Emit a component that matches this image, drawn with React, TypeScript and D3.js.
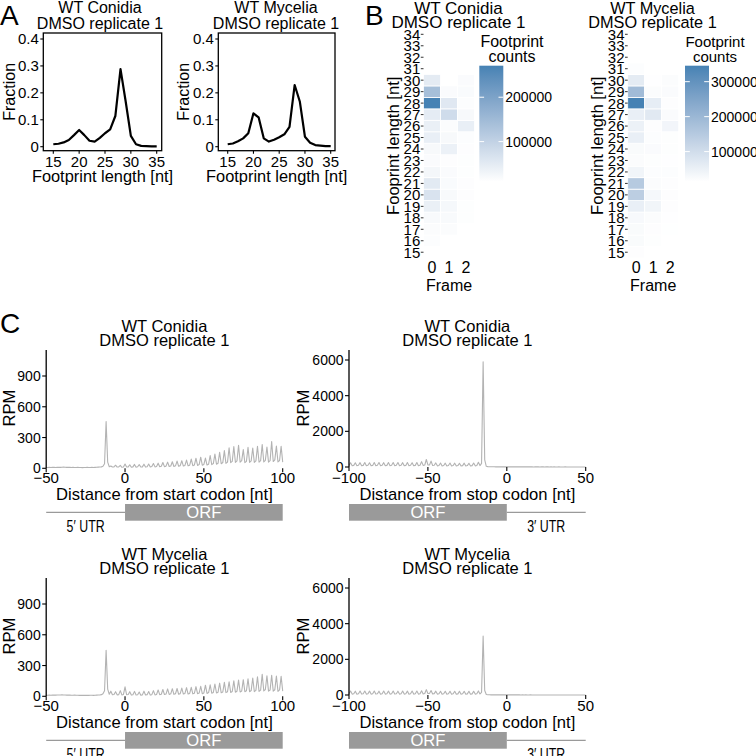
import React from 'react';
import * as d3 from 'd3';

const FONT = "'Liberation Sans', Arial, Helvetica, sans-serif";

// ---------------- Panel A data ----------------
const footprintLengths = [15, 16, 17, 18, 19, 20, 21, 22, 23, 24, 25, 26, 27, 28, 29, 30, 31, 32, 33, 34, 35];
const fractionConidia = [0.009, 0.011, 0.016, 0.025, 0.043, 0.062, 0.043, 0.022, 0.019, 0.033, 0.05, 0.064, 0.114, 0.288, 0.168, 0.04, 0.009, 0.003, 0.002, 0.001, 0.001];
const fractionMycelia = [0.009, 0.012, 0.02, 0.031, 0.05, 0.124, 0.109, 0.031, 0.019, 0.026, 0.035, 0.046, 0.074, 0.229, 0.168, 0.037, 0.015, 0.006, 0.004, 0.002, 0.002];
const fractionTicks = [0, 0.1, 0.2, 0.3, 0.4];
const fractionTickLabels = ['0', '0.1', '0.2', '0.3', '0.4'];
const lengthTicks = [15, 20, 25, 30, 35];

// ---------------- Panel B data ----------------
const heatLengths = [15, 16, 17, 18, 19, 20, 21, 22, 23, 24, 25, 26, 27, 28, 29, 30, 31, 32, 33, 34];
const frameLabels = ['0', '1', '2'];
// values for lengths 15..34 (null = no cell)
const conidiaFrame0 = [null, 14000, 16000, 20000, 40000, 65000, 52000, 26000, 17000, 22000, 42000, 40000, 48000, 271000, 140000, 50000, null, null, null, null];
const conidiaFrame1 = [null, 10000, 15000, 20000, 24000, 20000, 18000, 17000, 13000, 38000, 22000, 15000, 80000, 55000, 17000, null, null, null, null, null];
const conidiaFrame2 = [null, null, 10000, 12000, 12000, 13000, 13000, 12000, 12000, 13000, 14000, 42000, 22000, 14000, 18000, 17000, null, null, null, null];
const myceliaFrame0 = [18000, 25000, 25000, 28000, 55000, 140000, 150000, 40000, 22000, 25000, 55000, 50000, 55000, 345000, 190000, 65000, 20000, null, null, null];
const myceliaFrame1 = [null, 17000, 18000, 22000, 40000, 32000, 22000, 20000, 17000, 24000, 20000, 18000, 70000, 60000, 22000, 16000, null, null, null, null];
const myceliaFrame2 = [null, null, 15000, 16000, 18000, 18000, 18000, 20000, 16000, 17000, 17000, 38000, 24000, 18000, 24000, 22000, null, null, null, null];
const legendRangeConidia = [9700, 271000];
const legendRangeMycelia = [14000, 345700];
const legendTicksConidia = [100000, 200000];
const legendTicksMycelia = [100000, 200000, 300000];

// ---------------- Panel C data ----------------
const startFirst = -50;
const stopFirst = -100;
const rpmStartConidia = [
  8, 8, 9, 8, 9, 9, 8, 9, 10, 9, 10, 11, 10, 9, 10, 9, 8, 9, 8, 8, 9, 8, 8, 7, 8, 8, 9, 8, 8, 9, 8, 9, 10, 11, 12, 14, 20,
  45, 455, 60, 15, 22, 12, 14, 30, 12, 14, 28, 10, 12,
  42, 12, 14, 35, 10, 14, 38, 11, 15, 36, 12, 14, 40, 12, 16, 42, 13, 17, 46, 14, 18, 50, 15, 20,
  56, 16, 21, 60, 18, 23, 64, 18, 24, 70, 20, 26, 74, 22, 28, 80, 24, 30, 90, 26, 33, 98, 28, 36,
  108, 30, 38, 100, 32, 40, 125, 36, 46, 138, 40, 50, 155, 44, 56, 172, 48, 60, 200, 55, 68, 212, 58, 72,
  225, 60, 75, 182, 55, 68, 205, 58, 72, 198, 58, 72, 215, 60, 75, 232, 62, 78, 208, 60, 74, 262, 66, 82,
  218, 62, 76, 215, 60,
];
const rpmStartMycelia = [
  10, 10, 11, 10, 11, 12, 11, 12, 13, 12, 14, 13, 12, 11, 12, 11, 10, 10, 11, 10, 10, 9, 10, 9, 10, 9, 10, 9, 10, 10, 9, 10, 11, 12, 13, 16, 25,
  55, 448, 70, 20, 50, 15, 18, 45, 14, 16, 55, 14, 18,
  92, 15, 18, 45, 12, 16, 48, 12, 15, 42, 11, 14, 50, 13, 16, 46, 12, 16, 55, 14, 18, 62, 16, 20,
  66, 17, 22, 72, 18, 24, 74, 19, 25, 76, 20, 26, 80, 22, 28, 84, 22, 28, 88, 24, 30, 94, 25, 32,
  98, 26, 33, 108, 28, 36, 112, 30, 38, 120, 32, 40, 128, 34, 42, 136, 36, 45, 142, 38, 47, 150, 40, 50,
  158, 42, 52, 162, 44, 54, 170, 45, 56, 178, 46, 58, 190, 48, 60, 215, 52, 66, 200, 50, 62, 205, 50, 64,
  198, 48, 62, 195, 50,
];
const rpmStopConidia = [
  90,
  240, 70, 90, 235, 75, 95, 245, 70, 92, 250, 72, 95, 240, 70, 90, 250, 75, 95, 255, 75, 98,
  245, 72, 92, 250, 74, 96, 248, 72, 94, 255, 75, 96, 245, 70, 90, 250, 72, 95, 242, 70, 92,
  250, 75, 98, 300, 90, 110, 420, 120, 110, 330, 85, 100, 230, 65, 85, 225, 62, 82, 215, 60, 80,
  220, 62, 82, 215, 60, 80, 210, 58, 78, 215, 60, 80, 210, 58, 78, 220, 65, 85, 260, 80, 200,
  5900, 400, 40, 20, 15, 12, 10, 10, 9, 9, 8, 8, 8, 8, 7,
  7, 7, 6, 6, 6, 6, 6, 5, 6, 5, 5, 5, 6, 5, 5, 5, 5, 4, 5, 5, 5, 4, 5, 5, 4, 5,
  5, 4, 5, 4, 5, 4, 4, 5, 4, 4, 4, 5, 4, 4, 4, 4, 4, 4, 4, 4, 4, 3, 4, 4, 4,
];
const rpmStopMycelia = [
  80,
  220, 50, 70, 215, 48, 68, 225, 52, 72, 220, 50, 70, 218, 50, 70, 222, 52, 72, 215, 48, 68,
  220, 50, 70, 218, 50, 70, 222, 52, 70, 215, 50, 68, 220, 50, 70, 218, 48, 68, 222, 50, 70,
  220, 50, 70, 240, 60, 80, 300, 80, 90, 250, 60, 75, 215, 50, 68, 210, 48, 66, 212, 48, 66,
  210, 48, 66, 208, 46, 64, 210, 48, 66, 205, 46, 64, 208, 46, 64, 212, 50, 68, 230, 60, 150,
  3300, 250, 30, 15, 10, 9, 8, 8, 7, 7, 6, 6, 6, 6, 6,
  6, 6, 5, 5, 5, 5, 5, 5, 5, 4, 5, 4, 5, 4, 4, 5, 4, 4, 4, 4, 4, 4, 4, 3, 4, 4,
  4, 4, 3, 4, 4, 3, 4, 3, 4, 3, 3, 4, 3, 3, 3, 3, 4, 3, 3, 3, 3, 3, 3, 3, 3,
];
const startTicks = [-50, 0, 50, 100];
const stopTicks = [-100, -50, 0, 50];
const rpmTicksStart = [0, 300, 600, 900];
const rpmTicksStop = [0, 2000, 4000, 6000];

const fmtTick = (v: number) => (v < 0 ? '\u2212' + Math.abs(v) : String(v));

// ---------------- Panel A component ----------------
function FractionPlot(p: {
  bx0: number; bx1: number; by0: number; by1: number;
  xr: [number, number]; yr: [number, number];
  values: number[]; t1: string; t2: string; tcx: number; ylabX: number;
}) {
  const x = d3.scaleLinear().domain([15, 35]).range(p.xr);
  const y = d3.scaleLinear().domain([0, 0.4]).range(p.yr);
  const line = d3.line<number>().x((_, i) => x(footprintLengths[i])).y((d) => y(d));
  const cx = (p.bx0 + p.bx1) / 2;
  return (
    <g>
      <text x={p.tcx} y={13} textAnchor="middle" fontSize={16}>{p.t1}</text>
      <text x={p.tcx} y={28.5} textAnchor="middle" fontSize={16}>{p.t2}</text>
      <rect x={p.bx0} y={p.by0} width={p.bx1 - p.bx0} height={p.by1 - p.by0} fill="none" stroke="#000" strokeWidth={1.3} />
      {fractionTicks.map((t, i) => (
        <g key={i}>
          <line x1={p.bx0 - 3} x2={p.bx0} y1={y(t)} y2={y(t)} stroke="#000" strokeWidth={1.1} />
          <text x={p.bx0 - 4.5} y={y(t)} dy="0.36em" textAnchor="end" fontSize={15}>{fractionTickLabels[i]}</text>
        </g>
      ))}
      {lengthTicks.map((t) => (
        <g key={t}>
          <line x1={x(t)} x2={x(t)} y1={p.by1} y2={p.by1 + 3} stroke="#000" strokeWidth={1.1} />
          <text x={x(t)} y={p.by1 + 16} textAnchor="middle" fontSize={15}>{t}</text>
        </g>
      ))}
      <path d={line(p.values) || ''} fill="none" stroke="#000" strokeWidth={2.2} strokeLinejoin="round" />
      <text x={cx} y={182} textAnchor="middle" fontSize={16.4}>Footprint length [nt]</text>
      <text transform={`translate(${p.ylabX},${(p.by0 + p.by1) / 2}) rotate(-90)`} textAnchor="middle" fontSize={16}>Fraction</text>
    </g>
  );
}

// ---------------- Panel B component ----------------
function Heatmap(p: {
  cellX0: number; colW: number; frames: (number | null)[][]; range: number[]; ticks: number[];
  barX: number; t1: string; t2: string; tcx: number; tFont: number; legCx: number; legFont: number; gid: string;
}) {
  const rowTop = 34.3 - 11.47 / 2;
  const y = d3.scaleBand<number>().domain([...heatLengths].reverse()).range([rowTop, rowTop + 11.47 * 20]);
  const x = d3.scaleBand<number>().domain([0, 1, 2]).range([p.cellX0, p.cellX0 + p.colW * 3]);
  const color = d3.scaleLinear<string>().domain(p.range).range(['#ffffff', 'steelblue']).interpolate(d3.interpolateLab);
  const barTop = 65.7, barBot = 181.7, barW = 24;
  const ly = d3.scaleLinear().domain(p.range).range([barBot, barTop]);
  const stops = d3.range(0, 1.0001, 0.1);
  const cxCells = p.cellX0 + p.colW * 1.5;
  return (
    <g>
      <defs>
        <linearGradient id={p.gid} x1="0" y1="1" x2="0" y2="0">
          {stops.map((s) => (
            <stop key={s} offset={s} stopColor={color(p.range[0] + s * (p.range[1] - p.range[0]))} />
          ))}
        </linearGradient>
      </defs>
      <text x={p.tcx} y={13.5} textAnchor="middle" fontSize={p.tFont}>{p.t1}</text>
      <text x={p.tcx} y={27.5} textAnchor="middle" fontSize={p.tFont}>{p.t2}</text>
      {p.frames.map((vals, f) =>
        vals.map((v, i) =>
          v == null ? null : (
            <rect key={`${f}-${i}`} x={x(f)} y={y(heatLengths[i])} width={x.bandwidth()} height={y.bandwidth()}
              fill={color(v)} stroke="#fff" strokeWidth={0.8} />
          )
        )
      )}
      {heatLengths.map((l) => (
        <g key={l}>
          <line x1={p.cellX0 - 2.7} x2={p.cellX0} y1={(y(l) || 0) + y.bandwidth() / 2} y2={(y(l) || 0) + y.bandwidth() / 2} stroke="#333" strokeWidth={1} />
          <text x={p.cellX0 - 3.2} y={(y(l) || 0) + y.bandwidth() / 2} dy="0.36em" textAnchor="end" fontSize={15}>{l}</text>
        </g>
      ))}
      {frameLabels.map((f, i) => (
        <text key={f} x={(x(i) || 0) + x.bandwidth() / 2} y={273} textAnchor="middle" fontSize={16}>{f}</text>
      ))}
      <text x={cxCells} y={291} textAnchor="middle" fontSize={16}>Frame</text>
      <text transform={`translate(${p.cellX0 - 24.5},${145.8}) rotate(-90)`} textAnchor="middle" fontSize={16.6}>Fooprint length [nt]</text>
      <text x={p.legCx} y={47} textAnchor="middle" fontSize={p.legFont}>Footprint</text>
      <text x={p.legCx} y={61.5} textAnchor="middle" fontSize={p.legFont}>counts</text>
      <rect x={p.barX} y={barTop} width={barW} height={barBot - barTop} fill={`url(#${p.gid})`} />
      {p.ticks.map((t) => (
        <g key={t}>
          <line x1={p.barX} x2={p.barX + 4.8} y1={ly(t)} y2={ly(t)} stroke="#fff" strokeWidth={1} />
          <line x1={p.barX + barW - 4.8} x2={p.barX + barW} y1={ly(t)} y2={ly(t)} stroke="#fff" strokeWidth={1} />
          <text x={p.barX + barW + 2} y={ly(t)} dy="0.36em" fontSize={14}>{t}</text>
        </g>
      ))}
    </g>
  );
}

// ---------------- Panel C component ----------------
function MetaPlot(p: {
  dy: number; axisX: number; xDomain: [number, number]; xRange: [number, number];
  yMax: number; y0: number; yMaxPx: number; yTicks: number[]; xTicks: number[]; ylabX: number;
  values: number[]; first: number; t1: string; t2: string; xLabel: string; kind: 'start' | 'stop';
}) {
  const x = d3.scaleLinear().domain(p.xDomain).range(p.xRange);
  const y = d3.scaleLinear().domain([0, p.yMax]).range([p.y0 + p.dy, p.yMaxPx + p.dy]);
  const line = d3.line<number>().x((_, i) => x(p.first + i)).y((d) => y(d));
  const cx = (p.xRange[0] + p.xRange[1]) / 2;
  const axTop = 350 + p.dy;
  const barY0 = 504 + p.dy, barY1 = 520.7 + p.dy, midY = (barY0 + barY1) / 2;
  const x0 = x(0);
  const orfL = p.kind === 'start' ? x0 : p.xRange[0];
  const orfR = p.kind === 'start' ? p.xRange[1] : x0;
  const utrL = p.kind === 'start' ? p.xRange[0] : x0;
  const utrR = p.kind === 'start' ? x0 : p.xRange[1];
  return (
    <g>
      <text x={cx} y={331.5 + p.dy} textAnchor="middle" fontSize={16.5}>{p.t1}</text>
      <text x={cx} y={345.5 + p.dy} textAnchor="middle" fontSize={16.5}>{p.t2}</text>
      <path d={line(p.values) || ''} fill="none" stroke="#b3b3b3" strokeWidth={1.1} strokeLinejoin="round" />
      <line x1={p.axisX} x2={p.axisX} y1={axTop} y2={y(0)} stroke="#000" strokeWidth={1.3} />
      {p.yTicks.map((t) => (
        <g key={t}>
          <line x1={p.axisX - 4} x2={p.axisX} y1={y(t)} y2={y(t)} stroke="#000" strokeWidth={1.1} />
          <text x={p.axisX - 5.5} y={y(t)} dy="0.36em" textAnchor="end" fontSize={14}>{t}</text>
        </g>
      ))}
      {p.xTicks.map((t) => (
        <g key={t}>
          <line x1={x(t)} x2={x(t)} y1={y(0)} y2={y(0) + 4} stroke="#000" strokeWidth={1.1} />
          <text x={x(t)} y={483 + p.dy} textAnchor="middle" fontSize={15}>{fmtTick(t)}</text>
        </g>
      ))}
      <text x={cx} y={500 + p.dy} textAnchor="middle" fontSize={16.6}>{p.xLabel}</text>
      <text transform={`translate(${p.ylabX},${408 + p.dy}) rotate(-90)`} textAnchor="middle" fontSize={16.6}>RPM</text>
      <rect x={orfL} y={barY0} width={orfR - orfL} height={barY1 - barY0} fill="#9a9a9a" />
      <text x={(orfL + orfR) / 2} y={midY} dy="0.36em" textAnchor="middle" fontSize={16.6} fill="#fff">ORF</text>
      <line x1={utrL} x2={utrR} y1={midY} y2={midY} stroke="#9a9a9a" strokeWidth={1.2} />
      <text x={(utrL + utrR) / 2} y={532 + p.dy} textAnchor="middle" fontSize={17} textLength={38} lengthAdjust="spacingAndGlyphs">
        {p.kind === 'start' ? '5\u2032 UTR' : '3\u2032 UTR'}
      </text>
    </g>
  );
}

export default function App() {
  return (
    <svg width={756} height={756} viewBox="0 0 756 756" fontFamily={FONT}
      style={{ position: 'absolute', left: 0, top: 0, background: '#fff' }}>
      <rect width={756} height={756} fill="#fff" />
      {/* Panel letters */}
      <text x={0} y={25} fontSize={28}>A</text>
      <text x={365} y={25} fontSize={28}>B</text>
      <text x={0} y={333} fontSize={28}>C</text>

      <FractionPlot bx0={43.3} bx1={161.7} by0={33} by1={150.7} xr={[53.3, 156.7]} yr={[146.7, 39]}
        values={fractionConidia} t1="WT Conidia" t2="DMSO replicate 1" tcx={100} ylabX={15} />
      <FractionPlot bx0={218.3} bx1={335} by0={33} by1={150.7} xr={[227.7, 330.7]} yr={[146.7, 39]}
        values={fractionMycelia} t1="WT Mycelia" t2="DMSO replicate 1" tcx={276} ylabX={189} />

      <Heatmap cellX0={423.5} colW={17} frames={[conidiaFrame0, conidiaFrame1, conidiaFrame2]}
        range={legendRangeConidia} ticks={legendTicksConidia} barX={479.3}
        t1="WT Conidia" t2="DMSO replicate 1" tcx={458.5} tFont={17} legCx={512} legFont={16} gid="gradC" />
      <Heatmap cellX0={627.7} colW={17} frames={[myceliaFrame0, myceliaFrame1, myceliaFrame2]}
        range={legendRangeMycelia} ticks={legendTicksMycelia} barX={685}
        t1="WT Mycelia" t2="DMSO replicate 1" tcx={652.5} tFont={16.3} legCx={715} legFont={15} gid="gradM" />

      <MetaPlot dy={0} axisX={46.2} xDomain={[-50, 100]} xRange={[46.2, 282.7]} yMax={900} y0={468.3} yMaxPx={376}
        yTicks={rpmTicksStart} xTicks={startTicks} ylabX={14.5} values={rpmStartConidia} first={startFirst}
        t1="WT Conidia" t2="DMSO replicate 1" xLabel="Distance from start codon [nt]" kind="start" />
      <MetaPlot dy={0} axisX={349} xDomain={[-100, 50]} xRange={[349, 585.7]} yMax={6000} y0={467} yMaxPx={360}
        yTicks={rpmTicksStop} xTicks={stopTicks} ylabX={309} values={rpmStopConidia} first={stopFirst}
        t1="WT Conidia" t2="DMSO replicate 1" xLabel="Distance from stop codon [nt]" kind="stop" />
      <MetaPlot dy={228} axisX={46.2} xDomain={[-50, 100]} xRange={[46.2, 282.7]} yMax={900} y0={468.3} yMaxPx={376}
        yTicks={rpmTicksStart} xTicks={startTicks} ylabX={14.5} values={rpmStartMycelia} first={startFirst}
        t1="WT Mycelia" t2="DMSO replicate 1" xLabel="Distance from start codon [nt]" kind="start" />
      <MetaPlot dy={228} axisX={349} xDomain={[-100, 50]} xRange={[349, 585.7]} yMax={6000} y0={467} yMaxPx={360}
        yTicks={rpmTicksStop} xTicks={stopTicks} ylabX={309} values={rpmStopMycelia} first={stopFirst}
        t1="WT Mycelia" t2="DMSO replicate 1" xLabel="Distance from stop codon [nt]" kind="stop" />
    </svg>
  );
}
